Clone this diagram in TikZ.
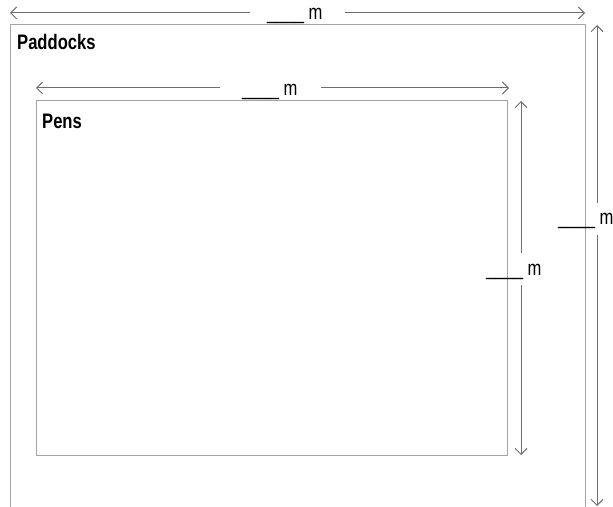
\documentclass[tikz,border=0pt]{standalone}
\usepackage{fontspec}
\setmainfont{Liberation Sans}[FakeStretch=0.79]
\usetikzlibrary{arrows.meta}
\definecolor{boxgray}{HTML}{A4A4A4}
\definecolor{arrgray}{HTML}{6E6E6E}
\tikzset{
  boxline/.style={draw=boxgray, line width=1bp},
  dimline/.style={draw=arrgray, line width=1bp, -{Straight Barb[length=6bp,width=12bp]}},
  dimlabel/.style={inner sep=0pt, anchor=base west, font=\fontsize{21bp}{25bp}\selectfont},
  title/.style={inner sep=0pt, anchor=base west, font=\fontsize{21bp}{25bp}\selectfont\bfseries},
}
\begin{document}
\begin{tikzpicture}[x=1bp,y=-1bp]
\useasboundingbox (0,0) rectangle (613,507);
% Paddocks outline (open at the bottom)
\coordinate (pdBL) at (10,507);
\coordinate (pdTL) at (10,25);
\coordinate (pdTR) at (585,25);
\coordinate (pdBR) at (585,507);
\draw[boxline] (pdBL) -- (pdTL) -- (pdTR) -- (pdBR);
\node[title] (paddocks) at (17,49.5) {Paddocks};
% Pens rectangle
\coordinate (penTL) at (36,101);
\coordinate (penBR) at (507,455);
\draw[boxline] (penTL) rectangle (penBR);
\node[title] (pens) at (42,129) {Pens};
% outer horizontal dimension
\coordinate (ohL) at (10,13);
\coordinate (ohR) at (585,13);
\coordinate (ohG1) at (250,13);
\coordinate (ohG2) at (345,13);
\draw[dimline] (ohG1) -- (ohL);
\draw[dimline] (ohG2) -- (ohR);
\node[dimlabel] (ohlab) at (267,20) {\_\_\_\_ m};
% inner horizontal dimension
\coordinate (ihL) at (36,88);
\coordinate (ihR) at (509,88);
\coordinate (ihG1) at (220,88);
\coordinate (ihG2) at (321,88);
\draw[dimline] (ihG1) -- (ihL);
\draw[dimline] (ihG2) -- (ihR);
\node[dimlabel] (ihlab) at (242,96) {\_\_\_\_ m};
% inner vertical dimension
\coordinate (ivT) at (521,101);
\coordinate (ivB) at (521,455);
\coordinate (ivG1) at (521,253);
\coordinate (ivG2) at (521,285);
\draw[dimline] (ivG1) -- (ivT);
\draw[dimline] (ivG2) -- (ivB);
\node[dimlabel] (ivlab) at (486,275.5) {\_\_\_\_ m};
% outer vertical dimension
\coordinate (ovT) at (597,25);
\coordinate (ovB) at (597,506);
\coordinate (ovG1) at (597,203);
\coordinate (ovG2) at (597,235);
\draw[dimline] (ovG1) -- (ovT);
\draw[dimline] (ovG2) -- (ovB);
\node[dimlabel] (ovlab) at (558,225) {\_\_\_\_ m};
\end{tikzpicture}
\end{document}
